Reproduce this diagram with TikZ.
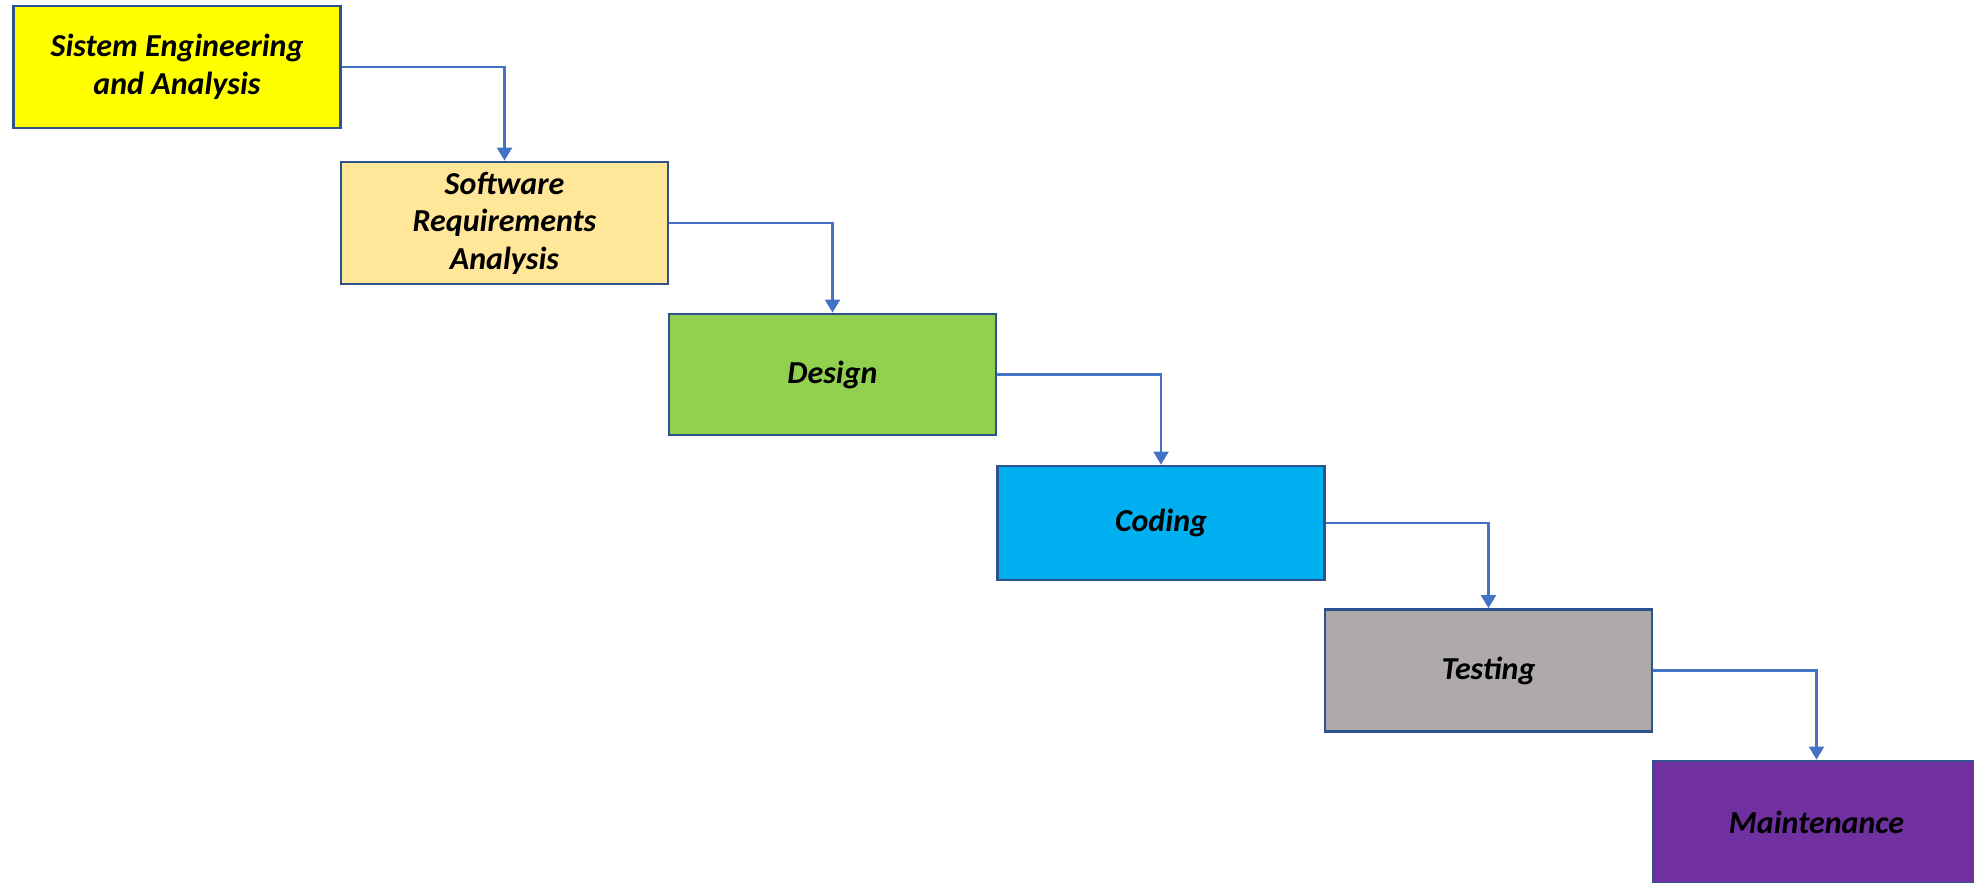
\documentclass[tikz,border=0pt]{standalone}
\usepackage{fontspec}
\setmainfont{Carlito}
\usetikzlibrary{arrows.meta}
\definecolor{edgeblue}{HTML}{2F528F}
\definecolor{flowblue}{HTML}{4472C4}
\definecolor{phaseyellow}{HTML}{FFFF00}
\definecolor{phasesand}{HTML}{FFE699}
\definecolor{phasegreen}{HTML}{92D050}
\definecolor{phasecyan}{HTML}{00B0F0}
\definecolor{phasegray}{HTML}{AEAAAA}
\definecolor{phasepurple}{HTML}{7030A0}
\tikzset{
  phase/.style={draw=edgeblue, line width=2.8pt, rectangle,
    minimum width=327pt, minimum height=122pt, inner sep=0pt,
    align=center, text=black,
    font=\fontsize{32}{37.5}\selectfont\bfseries\itshape},
  flow/.style={draw=flowblue, line width=2.2pt,
    -{Triangle[width=15pt,length=13pt]}}
}
\begin{document}
\begin{tikzpicture}[x=1pt,y=-1pt]
  \useasboundingbox (0,0) rectangle (1974,883);
  \clip (0,0) rectangle (1974,883);
  \fill[white] (0,0) rectangle (1974,883);

  % waterfall phases
  \node[phase, fill=phaseyellow] (sys) at (177,67) {Sistem Engineering\\and Analysis};
  \node[phase, fill=phasesand] (req) at (504.5,223) {Software\\Requirements\\Analysis};
  \node[phase, fill=phasegreen, minimum height=121pt] (des) at (832.5,374.5) {Design};
  \node[phase, fill=phasecyan, minimum height=114pt] (cod) at (1161,523) {Coding};
  \node[phase, fill=phasegray] (tst) at (1488.5,670.5) {Testing};
  \node[phase, fill=phasepurple] (mnt) at (1816.5,822) {Maintenance};

  % step-down connectors
  \draw[flow] (sys.east) -| (req.north);
  \draw[flow] (req.east) -| (des.north);
  \draw[flow] (des.east) -| (cod.north);
  \draw[flow] (cod.east) -| (tst.north);
  \draw[flow] (tst.east) -| (mnt.north);
\end{tikzpicture}
\end{document}
